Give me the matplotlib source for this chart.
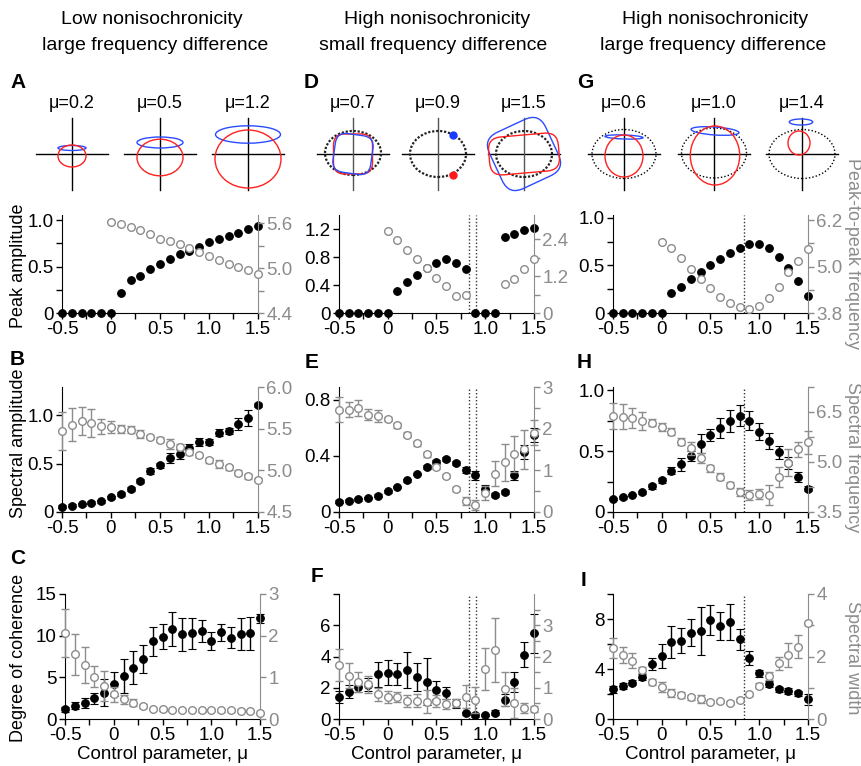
import numpy as np
import matplotlib
matplotlib.use('Agg')
import matplotlib.pyplot as plt
import matplotlib.transforms as mtransforms
from matplotlib.patches import Ellipse, FancyBboxPatch

plt.rcParams['font.family'] = ['Liberation Sans', 'DejaVu Sans']

W, H = 862, 766
GREY = '#8c8c8c'
nan = np.nan

# control parameter values
mu = [-0.5, -0.4, -0.3, -0.2, -0.1, 0.0, 0.1, 0.2, 0.3, 0.4, 0.5,
      0.6, 0.7, 0.8, 0.9, 1.0, 1.1, 1.2, 1.3, 1.4, 1.5]
mu_pos = [0.0, 0.1, 0.2, 0.3, 0.4, 0.5, 0.6, 0.7, 0.8, 0.9, 1.0,
          1.1, 1.2, 1.3, 1.4, 1.5]

# row 1: peak amplitude (filled) and peak-to-peak frequency (open)
a_peak = [0, 0, 0, 0, 0, 0, 0.21, 0.36, 0.40, 0.47, 0.53, 0.58, 0.635, 0.67,
          0.71, 0.76, 0.80, 0.83, 0.865, 0.90, 0.935]
a_freq = [5.61, 5.59, 5.55, 5.51, 5.45, 5.39, 5.36, 5.32, 5.27, 5.21, 5.16,
          5.11, 5.06, 5.01, 4.97, 4.92]
d_peak = [0, 0, 0, 0, 0, 0, 0.32, 0.45, 0.55, 0.64, 0.71, 0.77, 0.71, 0.63,
          0, 0, 0, 1.09, 1.13, 1.18, 1.22]
d_freq = [2.66, 2.37, 2.06, 1.75, 1.45, 1.15, 0.86, 0.56, 0.59, nan, nan,
          nan, 0.95, 1.09, 1.42, 1.75]
g_peak = [0, 0, 0, 0, 0, 0, 0.21, 0.27, 0.36, 0.43, 0.50, 0.57, 0.63, 0.68,
          0.72, 0.73, 0.68, 0.585, 0.47, 0.34, 0.18]
g_freq = [5.63, 5.48, 5.21, 4.93, 4.69, 4.45, 4.22, 4.06, 3.95, 3.91, 3.97,
          4.18, 4.48, 4.86, 5.13, 5.44]

# row 2: spectral amplitude (filled) and spectral frequency (open)
b_amp = [0.055, 0.065, 0.08, 0.096, 0.11, 0.15, 0.19, 0.24, 0.32, 0.42, 0.48,
         0.56, 0.60, 0.66, 0.72, 0.72, 0.82, 0.84, 0.91, 0.97, 1.10]
b_amp_err = [0.015, 0.015, 0.015, 0.015, 0.015, 0.02, 0.02, 0.02, 0.02, 0.03,
             0.03, 0.05, 0.05, 0.04, 0.04, 0.03, 0.04, 0.03, 0.06, 0.08, 0.02]
b_freq = [5.47, 5.55, 5.59, 5.57, 5.53, 5.52, 5.50, 5.49, 5.44, 5.40, 5.37,
          5.32, 5.28, 5.22, 5.18, 5.12, 5.08, 5.04, 4.97, 4.93, 4.89]
b_freq_err = [0.23, 0.2, 0.17, 0.17, 0.09, 0.07, 0.05, 0.04, 0.05, 0.02, 0.03,
              0.06, 0.04, 0.03, 0.02, 0.03, 0.05, 0.03, 0.03, 0.03, 0.02]
e_amp = [0.074, 0.081, 0.091, 0.10, 0.117, 0.146, 0.178, 0.225, 0.27, 0.32,
         0.355, 0.38, 0.35, 0.30, 0.26, 0.163, 0.12, 0.14, 0.26, 0.43, 0.55]
e_amp_err = [0.01, 0.01, 0.01, 0.01, 0.01, 0.01, 0.01, 0.01, 0.01, 0.015,
             0.015, 0.015, 0.015, 0.02, 0.03, 0.03, 0.015, 0.015, 0.03, 0.05, 0.05]
e_freq = [2.46, 2.46, 2.50, 2.34, 2.30, 2.23, 2.08, 1.86, 1.65, 1.39, 1.09,
          0.86, 0.55, 0.27, 0.17, 0.46, 0.92, 1.19, 1.39, 1.51, 1.90]
e_freq_err = [0.30, 0.18, 0.19, 0.14, 0.15, 0.05, 0.06, 0.06, 0.06, 0.06, 0.06,
              0.05, 0.04, 0.10, 0.12, 0.16, 0.30, 0.45, 0.43, 0.47, 0.30]
h_amp = [0.107, 0.12, 0.14, 0.16, 0.21, 0.26, 0.34, 0.39, 0.46, 0.56, 0.63,
         0.69, 0.75, 0.79, 0.75, 0.66, 0.58, 0.49, 0.40, 0.29, 0.19]
h_amp_err = [0.01, 0.01, 0.01, 0.015, 0.02, 0.02, 0.03, 0.05, 0.04, 0.08, 0.05,
             0.08, 0.09, 0.085, 0.08, 0.07, 0.065, 0.055, 0.05, 0.04, 0.02]
h_freq = [6.38, 6.36, 6.31, 6.23, 6.18, 6.06, 5.91, 5.61, 5.41, 5.11, 4.81,
          4.56, 4.31, 4.11, 4.01, 4.04, 4.01, 4.56, 4.98, 5.38, 5.59]
h_freq_err = [0.4, 0.38, 0.3, 0.27, 0.1, 0.12, 0.1, 0.1, 0.2, 0.15, 0.1,
              0.1, 0.1, 0.12, 0.15, 0.15, 0.3, 0.3, 0.4, 0.22, 0.35]

# row 3: degree of coherence (filled) and spectral width (open)
c_coh = [1.16, 1.6, 1.96, 2.48, 3.16, 4.2, 5.16, 6.16, 7.2, 9.36, 9.88,
         10.8, 10.16, 10.28, 10.6, 9.36, 10.4, 9.76, 10.2, 10.28, 12.08]
c_coh_err = [0.3, 0.4, 0.6, 0.68, 1.6, 1.44, 2.0, 2.0, 1.66, 1.74, 1.52,
             2.0, 2.0, 1.9, 1.3, 1.1, 1.0, 1.26, 1.9, 1.96, 0.56]
c_width = [2.06, 1.55, 1.3, 1.02, 0.79, 0.59, 0.47, 0.39, 0.32, 0.24, 0.23,
           0.22, 0.22, 0.22, 0.21, 0.22, 0.21, 0.21, 0.20, 0.19, 0.14]
c_width_err = [0.58, 0.49, 0.44, 0.26, 0.36, 0.18, 0.11, 0.08, 0.05, 0.03, 0.03,
               0.03, 0.03, 0.03, 0.03, 0.03, 0.03, 0.03, 0.03, 0.03, 0.03]
f_coh = [1.39, 1.75, 2.03, 2.2, 2.86, 2.97, 2.86, 3.14, 2.71, 2.39, 1.86,
         1.69, 1.0, 0.36, 0.26, 0.26, 0.4, 1.22, 2.35, 4.1, 5.49]
f_coh_err = [0.38, 0.43, 0.3, 0.4, 0.78, 0.8, 0.7, 1.18, 0.9, 1.5, 0.6,
             0.38, 0.3, 0.1, 0.1, 0.05, 0.15, 0.4, 0.63, 0.8, 1.26]
f_width = [1.73, 1.38, 1.19, 1.11, 0.79, 0.71, 0.69, 0.58, 0.59, 0.56, 0.58,
           0.48, 0.52, 0.71, 0.61, 1.59, 2.21, 0.95, 0.52, 0.36, 0.32]
f_width_err = [0.52, 0.4, 0.32, 0.27, 0.21, 0.2, 0.16, 0.2, 0.2, 0.37, 0.2,
               0.15, 0.12, 0.37, 0.43, 0.67, 1.02, 0.54, 0.48, 0.16, 0.1]
i_coh = [2.37, 2.64, 2.9, 3.38, 4.4, 5.04, 6.19, 6.27, 6.91, 7.04, 7.92,
         7.47, 7.74, 6.37, 4.91, 3.65, 2.8, 2.37, 2.24, 2.05, 1.57]
i_coh_err = [0.3, 0.25, 0.2, 0.25, 0.45, 0.93, 1.27, 1.0, 1.1, 1.9, 1.2,
             1.13, 1.43, 0.85, 0.56, 0.3, 0.25, 0.2, 0.25, 0.2, 0.47]
i_width = [2.28, 2.05, 1.86, 1.57, 1.19, 1.03, 0.84, 0.77, 0.69, 0.64, 0.55,
           0.57, 0.52, 0.61, 0.79, 1.06, 1.38, 1.78, 2.05, 2.31, 3.06]
i_width_err = [0.32, 0.27, 0.24, 0.1, 0.1, 0.15, 0.12, 0.1, 0.08, 0.12, 0.05,
               0.05, 0.05, 0.06, 0.05, 0.08, 0.12, 0.22, 0.37, 0.37, 0.05]

# transition markers (dotted lines)
d_lines = [0.83, 0.91]
g_lines = [0.84]

# phase portraits: (dx, dy, half-width, half-height, angle)
a_titles = ['μ=0.2', 'μ=0.5', 'μ=1.2']
a_blue = [(0, 6, 14, 2.5, 0), (0, 11.5, 23, 5.5, 0), (0, 19.5, 32.5, 8.7, 0)]
a_red = [(0, -2, 14, 11, 0), (0, -3.5, 23, 18.3, 0), (0, -5, 33, 29, 0)]
d_titles = ['μ=0.7', 'μ=0.9', 'μ=1.5']
d_ring = [(0, 1, 28, 22), (0, 0, 28, 23), (0, 0, 28, 23)]
g_titles = ['μ=0.6', 'μ=1.0', 'μ=1.4']
g_ring = [(0, 0, 32, 24.5), (0, 1, 32.5, 25), (0, 0, 33, 24.5)]
g_blue = [(0, 17, 19, 2, -2), (1, 23, 24, 4, -4), (-1, 32, 11.7, 3, 0)]
g_red = [(0, -2, 19, 21, 0), (1, -1.5, 24.7, 29.5, 0), (-3, 11, 11, 12, 0)]

FS = 13

fig = plt.figure(figsize=(W / 100, H / 100), dpi=100)


def px_rect(l, t, r, b):
    return [l / W, 1 - b / H, (r - l) / W, (b - t) / H]


def ftext(x, y, s, **kw):
    fig.text(x / W, 1 - y / H, s, **kw)


def make_panel(box, ylim_l, yt_l, yl_l, ylim_r, yt_r, yl_r, minor_l=(), minor_r=(),
               xlabel=False):
    ax = fig.add_axes(px_rect(*box))
    ax2 = ax.twinx()
    for s in ['top', 'right']:
        ax.spines[s].set_visible(False)
    for s in ['top', 'left', 'bottom']:
        ax2.spines[s].set_visible(False)
    ax2.spines['right'].set_color(GREY)
    ax.set_xlim(-0.5, 1.5)
    ax.set_xticks([-0.5, 0, 0.5, 1.0, 1.5])
    ax.set_xticklabels(['-0.5', '0', '0.5', '1.0', '1.5'])
    ax.set_xticks([-0.25, 0.25, 0.75, 1.25], minor=True)
    ax.set_ylim(*ylim_l)
    ax.set_yticks(yt_l)
    ax.set_yticklabels(yl_l)
    ax.set_yticks(list(minor_l), minor=True)
    ax2.set_ylim(*ylim_r)
    ax2.set_yticks(yt_r)
    ax2.set_yticklabels(yl_r)
    ax2.set_yticks(list(minor_r), minor=True)
    ax.tick_params(which='both', direction='out', length=4, width=1,
                   labelsize=FS + 0.5, pad=2)
    ax2.tick_params(which='both', direction='out', length=4, width=1,
                    labelsize=FS + 0.5, pad=2, colors=GREY)
    if xlabel:
        ax.set_xlabel('Control parameter, μ', fontsize=FS + 0.5, labelpad=1)
    return ax, ax2


def filled(ax, x, y, err=None):
    ax.errorbar(x, y, yerr=err, fmt='o', color='k', ms=5.5, mew=0.8,
                ecolor='k', elinewidth=1, capsize=3, capthick=1,
                clip_on=False, zorder=3)


def hollow(ax, x, y, err=None):
    ax.errorbar(x, y, yerr=err, fmt='o', color=GREY, mfc='white', mec=GREY,
                ms=5.5, mew=1, ecolor=GREY, elinewidth=1, capsize=3,
                capthick=1, clip_on=False, zorder=3)


def vlines(ax, xs):
    for x in xs:
        ax.axvline(x, color='#333333', ls=(0, (1, 1.5)), lw=1, zorder=1)


def portrait(cx, cy, vcolor='k'):
    s = 42
    ax = fig.add_axes(px_rect(cx - s, cy - s, cx + s, cy + s))
    ax.set_xlim(-s, s)
    ax.set_ylim(-s, s)
    ax.axis('off')
    ax.plot([-36, 36], [0, 0], color='k', lw=1, zorder=1)
    ax.plot([0, 0], [-36, 36], color=vcolor, lw=1, zorder=1)
    return ax


def ell(ax, p, color, ls='-', lw=1):
    dx, dy, a, b = p[:4]
    ang = p[4] if len(p) > 4 else 0
    ax.add_patch(Ellipse((dx, dy), 2 * a, 2 * b, angle=ang, fill=False,
                         edgecolor=color, ls=ls, lw=lw, zorder=2))


def rbox(ax, w, h, r, ang, color):
    tr = mtransforms.Affine2D().rotate_deg(ang) + ax.transData
    ax.add_patch(FancyBboxPatch((-w / 2, -h / 2), w, h,
                                boxstyle='round,pad=0,rounding_size=%g' % r,
                                fill=False, edgecolor=color, lw=1,
                                transform=tr, zorder=3))


# ---------- column titles and panel letters ----------
ftext(152, 20, 'Low nonisochronicity', ha='center', va='center', fontsize=14)
ftext(155, 45, 'large frequency difference', ha='center', va='center', fontsize=14)
ftext(437, 20, 'High nonisochronicity', ha='center', va='center', fontsize=14)
ftext(433, 45, 'small frequency difference', ha='center', va='center', fontsize=14)
ftext(715, 20, 'High nonisochronicity', ha='center', va='center', fontsize=14)
ftext(713, 45, 'large frequency difference', ha='center', va='center', fontsize=14)

for letter, x, y in [('A', 10, 83), ('D', 304, 83), ('G', 577, 83),
                     ('B', 10, 359), ('E', 305, 362), ('H', 577, 362),
                     ('C', 10, 559), ('F', 311, 576), ('I', 581, 580)]:
    ftext(x, y, letter, ha='left', va='center', fontsize=15, fontweight='bold')

# ---------- phase portraits ----------
PY = 154
for i, cx in enumerate([72, 160, 248]):
    ftext(cx, 103, a_titles[i], ha='center', va='center', fontsize=FS)
    pa = portrait(cx, PY)
    ell(pa, a_blue[i], '#2b4bff')
    ell(pa, a_red[i], '#ff2020')

for i, cx in enumerate([353, 438, 524]):
    ftext(cx, 103, d_titles[i], ha='center', va='center', fontsize=FS)
    pd = portrait(cx, PY, vcolor='#555555')
    ell(pd, d_ring[i], '#222222', ls=(0, (1, 0.8)), lw=1.6)
    if i == 0:
        rbox(pd, 39, 40, 11, 0, '#ff2020')
        rbox(pd, 38, 39, 11, -8, '#2b4bff')
    elif i == 1:
        pd.plot([15], [19], 'o', color='#1a3cff', ms=5, zorder=4)
        pd.plot([15], [-21], 'o', color='#ff1a1a', ms=5, zorder=4)
    else:
        rbox(pd, 62, 62, 16, 25, '#2b4bff')
        rbox(pd, 70, 38, 13, 5, '#ff2020')

for i, cx in enumerate([624, 714, 802]):
    ftext(cx, 103, g_titles[i], ha='center', va='center', fontsize=FS)
    pg = portrait(cx, PY)
    ell(pg, g_ring[i], 'k', ls=(0, (1, 1.5)), lw=1)
    ell(pg, g_blue[i], '#2b4bff')
    ell(pg, g_red[i], '#ff2020')

# ---------- row 1 ----------
R1 = (215, 313)
ax, ax2 = make_panel((62, R1[0], 258, R1[1]), (0, 1.054), [0, 0.5, 1.0],
                     ['0', '0.5', '1.0'], (4.4, 5.71), [4.4, 5.0, 5.6],
                     ['4.4', '5.0', '5.6'], [0.25, 0.75], [4.7, 5.3])
filled(ax, mu, a_peak)
hollow(ax2, mu_pos, a_freq)

ax, ax2 = make_panel((339, R1[0], 534, R1[1]), (0, 1.40), [0, 0.4, 0.8, 1.2],
                     ['0', '0.4', '0.8', '1.2'], (0, 3.18), [0, 1.2, 2.4],
                     ['0', '1.2', '2.4'], [], [0.6, 1.8])
vlines(ax, d_lines)
filled(ax, mu, d_peak)
hollow(ax2, mu_pos, d_freq)

ax, ax2 = make_panel((613, R1[0], 808, R1[1]), (0, 1.03), [0, 0.5, 1.0],
                     ['0', '0.5', '1.0'], (3.8, 6.33), [3.8, 5.0, 6.2],
                     ['3.8', '5.0', '6.2'], [0.25, 0.75], [4.4, 5.6])
vlines(ax, g_lines)
filled(ax, mu, g_peak)
hollow(ax2, mu_pos, g_freq)

# ---------- row 2 ----------
R2 = (387, 512)
ax, ax2 = make_panel((62, R2[0], 258, R2[1]), (0, 1.29), [0, 0.5, 1.0],
                     ['0', '0.5', '1.0'], (4.5, 6.0), [4.5, 5.0, 5.5, 6.0],
                     ['4.5', '5.0', '5.5', '6.0'])
filled(ax, mu, b_amp, b_amp_err)
hollow(ax2, mu, b_freq, b_freq_err)

ax, ax2 = make_panel((339, R2[0], 534, R2[1]), (0, 0.89), [0, 0.4, 0.8],
                     ['0', '0.4', '0.8'], (0, 3), [0, 1, 2, 3],
                     ['0', '1', '2', '3'], [], [0.5, 1.5, 2.5])
vlines(ax, d_lines)
filled(ax, mu, e_amp, e_amp_err)
hollow(ax2, mu, e_freq, e_freq_err)

ax, ax2 = make_panel((613, R2[0], 808, R2[1]), (0, 1.025), [0, 0.5, 1.0],
                     ['0', '0.5', '1.0'], (3.5, 7.25), [3.5, 5.0, 6.5],
                     ['3.5', '5.0', '6.5'], [0.25, 0.75], [4.25, 5.75, 7.25])
vlines(ax, g_lines)
filled(ax, mu, h_amp, h_amp_err)
hollow(ax2, mu, h_freq, h_freq_err)

# ---------- row 3 ----------
R3 = (594, 719)
ax, ax2 = make_panel((65, R3[0], 260, R3[1]), (0, 15), [0, 5, 10, 15],
                     ['0', '5', '10', '15'], (0, 3), [0, 1, 2, 3],
                     ['0', '1', '2', '3'], xlabel=True)
filled(ax, mu, c_coh, c_coh_err)
hollow(ax2, mu, c_width, c_width_err)

ax, ax2 = make_panel((339, R3[0], 534, R3[1]), (0, 8), [0, 2, 4, 6],
                     ['0', '2', '4', '6'], (0, 4), [0, 1, 2, 3],
                     ['0', '1', '2', '3'], [8], [0.5, 1.5, 2.5, 3.5], xlabel=True)
vlines(ax, d_lines)
filled(ax, mu, f_coh, f_coh_err)
hollow(ax2, mu, f_width, f_width_err)

ax, ax2 = make_panel((613, R3[0], 808, R3[1]), (0, 10), [0, 4, 8],
                     ['0', '4', '8'], (0, 4), [0, 2, 4],
                     ['0', '2', '4'], [2, 6, 10], [1, 3], xlabel=True)
vlines(ax, g_lines)
filled(ax, mu, i_coh, i_coh_err)
hollow(ax2, mu, i_width, i_width_err)

# ---------- side labels ----------
ftext(19, 266, 'Peak amplitude', rotation=90, ha='center', va='center', fontsize=FS)
ftext(19, 443, 'Spectral amplitude', rotation=90, ha='center', va='center', fontsize=FS)
ftext(19, 658, 'Degree of coherence', rotation=90, ha='center', va='center', fontsize=FS)
ftext(853, 253, 'Peak-to-peak frequency', rotation=270, ha='center', va='center',
      fontsize=FS, color=GREY)
ftext(853, 457, 'Spectral frequency', rotation=270, ha='center', va='center',
      fontsize=FS, color=GREY)
ftext(853, 658, 'Spectral width', rotation=270, ha='center', va='center',
      fontsize=FS, color=GREY)

fig.savefig('out.png', dpi=100)
